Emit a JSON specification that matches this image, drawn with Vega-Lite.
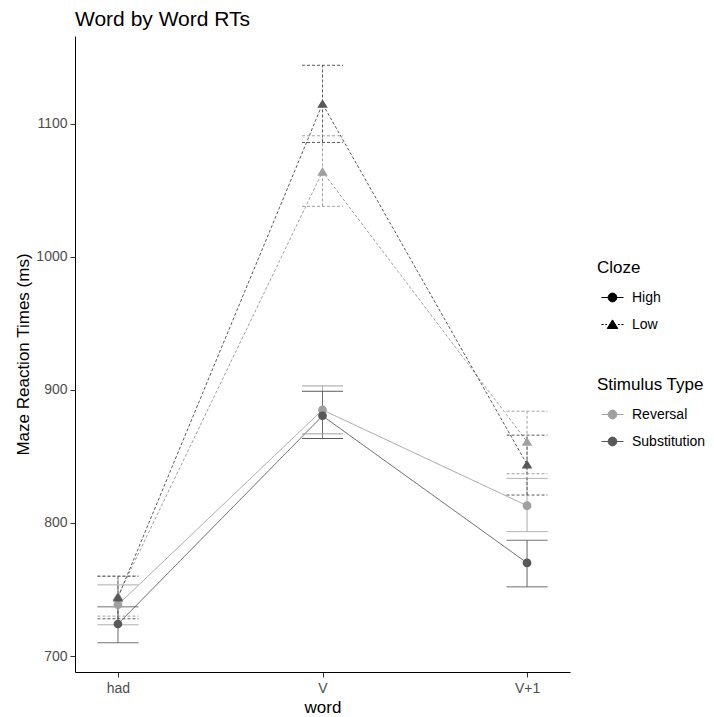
{
  "$schema": "https://vega.github.io/schema/vega-lite/v6.json",
  "width": 495,
  "height": 636,
  "autosize": {"type": "none"},
  "padding": {"left": 75, "top": 36, "right": 144, "bottom": 45},
  "background": "white",
  "title": {"text": "Word by Word RTs", "anchor": "start", "frame": "group", "fontSize": 21, "fontWeight": "normal", "font": "Liberation Sans", "color": "black", "offset": 6},
  "config": {
    "font": "Liberation Sans",
    "view": {"stroke": null},
    "axis": {"grid": false, "domainColor": "black", "domainWidth": 1, "tickColor": "#333333", "tickSize": 5, "tickWidth": 1, "labelColor": "#4d4d4d", "labelFontSize": 14, "titleFontSize": 17, "titleFontWeight": "normal", "titleColor": "black", "labelFont": "Liberation Sans", "titleFont": "Liberation Sans"},
    "legend": {"titleFontSize": 17, "titleFontWeight": "normal", "titleColor": "black", "labelFontSize": 14, "labelColor": "black", "titleFont": "Liberation Sans", "labelFont": "Liberation Sans"}
  },
  "data": {"values": [
    {"word": "had", "cloze": "High", "stim": "Reversal", "rt": 738.5, "lo": 723.5, "hi": 753.5},
    {"word": "had", "cloze": "High", "stim": "Substitution", "rt": 724, "lo": 710, "hi": 737},
    {"word": "had", "cloze": "Low", "stim": "Reversal", "rt": 745, "lo": 730, "hi": 760},
    {"word": "had", "cloze": "Low", "stim": "Substitution", "rt": 744, "lo": 728, "hi": 760},
    {"word": "V", "cloze": "High", "stim": "Reversal", "rt": 885, "lo": 867, "hi": 903},
    {"word": "V", "cloze": "High", "stim": "Substitution", "rt": 880.5, "lo": 863.5, "hi": 899},
    {"word": "V", "cloze": "Low", "stim": "Reversal", "rt": 1064, "lo": 1038, "hi": 1091},
    {"word": "V", "cloze": "Low", "stim": "Substitution", "rt": 1115, "lo": 1086, "hi": 1144},
    {"word": "V+1", "cloze": "High", "stim": "Reversal", "rt": 813, "lo": 793.5, "hi": 833.5},
    {"word": "V+1", "cloze": "High", "stim": "Substitution", "rt": 770, "lo": 752, "hi": 787},
    {"word": "V+1", "cloze": "Low", "stim": "Reversal", "rt": 861, "lo": 837, "hi": 884},
    {"word": "V+1", "cloze": "Low", "stim": "Substitution", "rt": 844, "lo": 821, "hi": 866}
  ]},
  "encoding": {
    "x": {"field": "word", "type": "nominal", "scale": {"type": "point", "domain": ["had", "V", "V+1"], "padding": 0.21}, "axis": {"labelAngle": 0, "title": "word", "labelPadding": 4, "titlePadding": 4}},
    "color": {"field": "stim", "type": "nominal", "scale": {"domain": ["Reversal", "Substitution"], "range": ["#a0a0a0", "#595959"]},
      "legend": {"title": "Stimulus Type", "orient": "none", "legendX": 522, "legendY": 341, "symbolType": "M-1,0L1,0M0.4,0A0.4,0.4,0,1,1,-0.4,0A0.4,0.4,0,1,1,0.4,0Z", "symbolSize": 484, "symbolStrokeWidth": 1, "symbolOffset": 4, "labelOffset": 8, "titlePadding": 9, "rowPadding": 8}}
  },
  "layer": [
    {
      "mark": {"type": "line", "strokeWidth": 1},
      "encoding": {
        "y": {"field": "rt", "type": "quantitative", "scale": {"domain": [688, 1166], "nice": false, "zero": false}, "axis": {"values": [700, 800, 900, 1000, 1100], "format": "d", "title": "Maze Reaction Times (ms)", "labelPadding": 3, "titlePadding": 3}},
        "detail": {"field": "cloze"},
        "strokeDash": {"field": "cloze", "type": "nominal", "scale": {"range": [[1, 0], [3, 2]]}, "legend": null}
      }
    },
    {
      "mark": {"type": "rule", "strokeWidth": 1},
      "encoding": {
        "y": {"field": "lo", "type": "quantitative"},
        "y2": {"field": "hi"},
        "strokeDash": {"field": "cloze", "type": "nominal", "legend": null}
      }
    },
    {
      "mark": {"type": "rule", "strokeWidth": 1, "xOffset": -20.5, "x2Offset": 20.5},
      "encoding": {
        "y": {"field": "lo", "type": "quantitative"},
        "x2": {"field": "word"},
        "strokeDash": {"field": "cloze", "type": "nominal", "legend": null}
      }
    },
    {
      "mark": {"type": "rule", "strokeWidth": 1, "xOffset": -20.5, "x2Offset": 20.5},
      "encoding": {
        "y": {"field": "hi", "type": "quantitative"},
        "x2": {"field": "word"},
        "strokeDash": {"field": "cloze", "type": "nominal", "legend": null}
      }
    },
    {
      "mark": {"type": "point", "filled": true, "opacity": 1, "size": 484},
      "encoding": {
        "y": {"field": "rt", "type": "quantitative"},
        "shape": {"field": "cloze", "type": "nominal",
          "scale": {"domain": ["High", "Low"], "range": ["M-1,0L-0.4,0M0.4,0L1,0M0.4,0A0.4,0.4,0,1,1,-0.4,0A0.4,0.4,0,1,1,0.4,0Z", "M-1,0L-0.8,0M-0.65,0L-0.5,0M0.5,0L0.65,0M0.8,0L1,0M0,-0.42L0.48,0.36L-0.48,0.36Z"]},
          "legend": {"title": "Cloze", "orient": "none", "legendX": 522, "legendY": 224, "symbolSize": 484, "symbolFillColor": "black", "symbolStrokeColor": "black", "symbolStrokeWidth": 1, "symbolOpacity": 1, "symbolOffset": 4, "labelOffset": 8, "titlePadding": 9, "rowPadding": 8}}
      }
    }
  ]
}
